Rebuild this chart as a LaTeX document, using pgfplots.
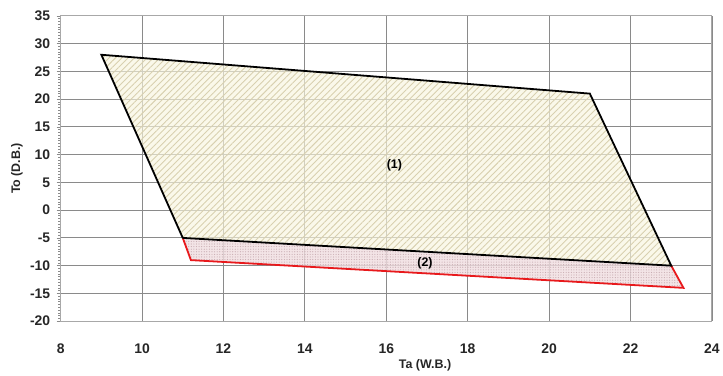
\documentclass[border=0pt]{standalone}
\usepackage{fontspec}
\setmainfont{Liberation Sans}
\usepackage{pgfplots}
\pgfplotsset{compat=1.18}
\usetikzlibrary{patterns,patterns.meta}
\definecolor{gridc}{HTML}{8A8A8A}
\definecolor{framec}{HTML}{A8A8A8}
\definecolor{fillA}{HTML}{F8F5DE}
\definecolor{hatchA}{HTML}{D8D0B0}
\definecolor{fillB}{HTML}{F0DDE0}
\definecolor{dotB}{HTML}{BFA0A6}
\definecolor{redl}{HTML}{E8191C}
\begin{document}
\begin{tikzpicture}
\begin{axis}[
  width=655pt, height=307pt, scale only axis,
  xmin=8, xmax=24, ymin=-20, ymax=35,
  xtick={8,10,...,24}, ytick={-20,-15,...,35},
  minor y tick num=9,
  grid=major,
  major grid style={gridc, line width=0.9pt},
  axis line style={framec, line width=1pt},
  tick pos=left,
  tick align=outside,
  major tick length=4pt,
  minor tick length=2.5pt,
  tick style={gridc, line width=0.6pt},
  x tick style={draw=none},
  /pgf/number format/assume math mode=true,
  ticklabel style={font=\fontsize{14}{16}\selectfont\bfseries, text=black!85},
  xticklabel style={yshift=-15pt},
  yticklabel style={xshift=-3pt},
  xlabel={Ta (W.B.)},
  ylabel={To (D.B.)},
  label style={font=\fontsize{12.5}{14}\selectfont\bfseries, text=black!85},
  xlabel style={at={(rel axis cs:0.5595,0)}, anchor=center, yshift=-44pt},
  ylabel style={at={(rel axis cs:0,0.5)}, anchor=center, rotate=0, yshift=44pt},
]
% region (1)
\addplot[draw=none, fill=fillA, fill opacity=0.65, postaction={pattern={Lines[angle=45, distance=4.5pt, line width=0.9pt]}, pattern color=hatchA}]
  coordinates {(9,28) (21,21) (23,-10) (11,-5)} -- cycle;
% region (2)
\addplot[draw=none, fill=fillB, fill opacity=0.8, postaction={pattern={Dots[radius=0.6pt, distance=2.6pt]}, pattern color=dotB}]
  coordinates {(11,-5) (11.2,-9) (23.3,-14) (23,-10)} -- cycle;
% outlines
\addplot[redl, line width=1.8pt, line join=miter] coordinates {(11,-5) (11.2,-9) (23.3,-14) (23,-10)};
\addplot[black, line width=1.8pt, line join=miter] coordinates {(11,-5) (9,28) (21,21) (23,-10) (11,-5)};
\node[font=\fontsize{12.5}{14}\selectfont\bfseries] at (axis cs:16.2,8) {(1)};
\node[font=\fontsize{12.5}{14}\selectfont\bfseries] at (axis cs:16.95,-9.6) {(2)};
\end{axis}
\path ([shift={(-61pt,-55pt)}]current axis.south west) rectangle ([shift={(7pt,16pt)}]current axis.north east);
\end{tikzpicture}
\end{document}
